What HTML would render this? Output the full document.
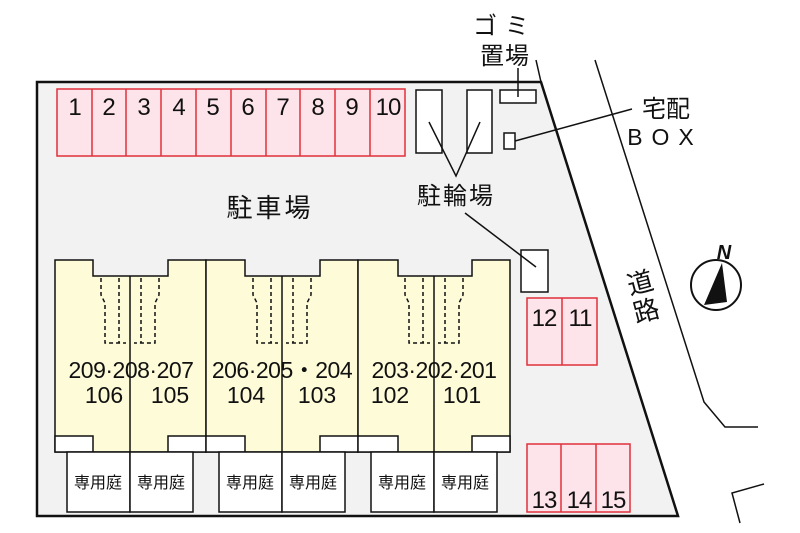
<!DOCTYPE html>
<html><head><meta charset="utf-8"><style>
html,body{margin:0;padding:0;background:#fff;}
svg{display:block;}
text{font-family:"Liberation Sans","Noto Sans CJK JP",sans-serif;fill:#111;}
</style></head><body>
<svg width="800" height="533" viewBox="0 0 800 533" xmlns="http://www.w3.org/2000/svg">
<polygon points="37,82 541,82 678,516 37,516" fill="#f2f2f2" stroke="#111" stroke-width="2.5"/>
<line x1="536" y1="60" x2="541" y2="82" stroke="#111" stroke-width="1.5"/>
<polyline points="595,60 704,402 725,427 758,427" fill="none" stroke="#111" stroke-width="1.5"/>
<polyline points="740,523 732,493 764,484" fill="none" stroke="#111" stroke-width="1.5"/>
<g stroke="#e0303a" stroke-width="1.5" fill="#fde3ea">
<rect x="57" y="89" width="348" height="67"/>
<rect x="527" y="298" width="70" height="67"/>
<rect x="527" y="444" width="103" height="68"/>
</g>
<g stroke="#e0303a" stroke-width="1.5">
<line x1="92" y1="89" x2="92" y2="156"/><line x1="126" y1="89" x2="126" y2="156"/>
<line x1="161" y1="89" x2="161" y2="156"/><line x1="196" y1="89" x2="196" y2="156"/>
<line x1="231" y1="89" x2="231" y2="156"/><line x1="266" y1="89" x2="266" y2="156"/>
<line x1="300" y1="89" x2="300" y2="156"/><line x1="335" y1="89" x2="335" y2="156"/>
<line x1="370" y1="89" x2="370" y2="156"/>
<line x1="562" y1="298" x2="562" y2="365"/>
<line x1="561" y1="444" x2="561" y2="512"/><line x1="596" y1="444" x2="596" y2="512"/>
</g>
<g font-size="24" text-anchor="middle">
<text x="75" y="115">1</text><text x="109" y="115">2</text><text x="144" y="115">3</text>
<text x="179" y="115">4</text><text x="213" y="115">5</text><text x="248" y="115">6</text>
<text x="283" y="115">7</text><text x="318" y="115">8</text><text x="352" y="115">9</text>
<text x="388" y="115" letter-spacing="-1">10</text>
<text x="544" y="326" letter-spacing="-1">12</text><text x="580" y="326" letter-spacing="-1">11</text>
<text x="544" y="508" letter-spacing="-1">13</text><text x="579" y="508" letter-spacing="-1">14</text><text x="613" y="508" letter-spacing="-1">15</text>
</g>
<g fill="#fff" stroke="#111" stroke-width="1.5">
<rect x="416" y="90" width="26" height="63"/>
<rect x="467" y="90" width="25" height="63"/>
<rect x="500" y="90" width="36" height="13"/>
<rect x="504" y="133" width="11" height="16"/>
<rect x="521" y="250" width="27" height="42"/>
</g>
<g stroke="#111" stroke-width="1.5" fill="none">
<polyline points="429,122 456,176 480,122"/>
<line x1="465" y1="213" x2="536" y2="267"/>
<line x1="518" y1="68" x2="518" y2="97"/>
<line x1="515" y1="141" x2="632" y2="109"/>
</g>
<g font-size="24" text-anchor="middle">
<text x="505" y="34" letter-spacing="8">ゴミ</text>
<text x="505" y="64" letter-spacing="1">置場</text>
<text x="456" y="204" letter-spacing="2">駐輪場</text>
<text x="666" y="117">宅配</text>
<text x="665" y="145" letter-spacing="9" font-size="23">BOX</text>
<text x="270" y="217" font-size="26" letter-spacing="3">駐車場</text>
<text x="640" y="292" font-size="26" transform="rotate(-15 640 282)">道</text>
<text x="646" y="320" font-size="26" transform="rotate(-15 646 310)">路</text>
</g>
<circle cx="716" cy="285" r="25" fill="#fff" stroke="#111" stroke-width="2"/>
<polygon points="704,305 722,263 727,302" fill="#111"/>
<text x="724" y="259" font-size="20" font-style="italic" font-weight="bold" text-anchor="middle">N</text>
<g fill="#fdfbd8" stroke="#111" stroke-width="1.5">
<polygon points="55,260 93,260 93,276 168,276 168,260 206,260 206,452 55,452"/>
<polygon points="206,260 245,260 245,276 320,276 320,260 358,260 358,452 206,452"/>
<polygon points="358,260 398,260 398,276 472,276 472,260 510,260 510,452 358,452"/>
</g>
<g fill="#fff" stroke="#111" stroke-width="1.5">
<rect x="55" y="436" width="38" height="16"/><rect x="168" y="436" width="38" height="16"/>
<rect x="206" y="436" width="39" height="16"/><rect x="320" y="436" width="38" height="16"/>
<rect x="358" y="436" width="40" height="16"/><rect x="472" y="436" width="38" height="16"/>
<rect x="67" y="452" width="63" height="60"/><rect x="130" y="452" width="63" height="60"/>
<rect x="219" y="452" width="63" height="60"/><rect x="282" y="452" width="63" height="60"/>
<rect x="371" y="452" width="63" height="60"/><rect x="434" y="452" width="63" height="60"/>
</g>
<g stroke="#111" stroke-width="1.5">
<line x1="130" y1="276" x2="130" y2="452"/>
<line x1="282" y1="276" x2="282" y2="452"/>
<line x1="434" y1="276" x2="434" y2="452"/>
</g>
<g stroke="#111" stroke-width="1.5" fill="none" stroke-dasharray="4,3">
<path d="M101,278 V295 L105,303 V343 H126 M119,278 V343"/>
<path d="M159,278 V295 L155,303 V343 H134 M141,278 V343"/>
<path d="M253,278 V295 L257,303 V343 H278 M271,278 V343"/>
<path d="M311,278 V295 L307,303 V343 H286 M293,278 V343"/>
<path d="M405,278 V295 L409,303 V343 H430 M423,278 V343"/>
<path d="M463,278 V295 L459,303 V343 H438 M445,278 V343"/>
</g>
<g font-size="23" text-anchor="middle">
<text x="131" y="378" letter-spacing="-0.5">209·208·207</text>
<text x="282" y="378" letter-spacing="-0.5">206·205・204</text>
<text x="434" y="378" letter-spacing="-0.5">203·202·201</text>
<text x="104" y="403">106</text><text x="170" y="403">105</text>
<text x="246" y="403">104</text><text x="317" y="403">103</text>
<text x="390" y="403">102</text><text x="462" y="403">101</text>
</g>
<g font-size="16" text-anchor="middle">
<text x="98" y="488">専用庭</text><text x="161" y="488">専用庭</text>
<text x="250" y="488">専用庭</text><text x="313" y="488">専用庭</text>
<text x="402" y="488">専用庭</text><text x="465" y="488">専用庭</text>
</g>
</svg>
</body></html>
